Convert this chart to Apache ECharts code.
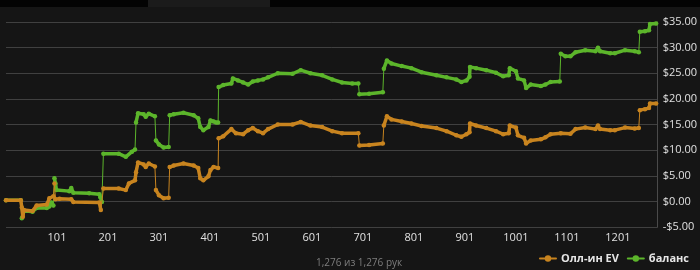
<!DOCTYPE html>
<html><head><meta charset="utf-8">
<script src="https://cdn.jsdelivr.net/npm/echarts@6/dist/echarts.min.js"></script>
<style>html,body{margin:0;padding:0;background:#151515;}#c{width:700px;height:270px;}</style>
</head><body><div id="c"></div>
<script>
const seriesNames = ['Олл-ин EV', 'баланс'];
const yTicks = [-5, 0, 5, 10, 15, 20, 25, 30, 35];
const xTickLabels = [101, 201, 301, 401, 501, 601, 701, 801, 901, 1001, 1101, 1201];
const footerText = '1,276 из 1,276 рук';

const evHands = [1,30,32,34,36,53,61,81,86,94,96,98,106,129,133,184,187,192,222,236,242,254,256,260,271,275,281,293,295,301,310,320,322,330,349,369,378,382,388,398,402,408,417,418,427,443,452,466,476,485,495,505,515,534,563,579,598,621,641,660,692,694,713,740,742,748,757,777,796,816,845,865,884,894,904,910,911,923,943,962,976,987,989,1001,1005,1017,1021,1030,1050,1059,1069,1089,1108,1118,1137,1157,1162,1166,1186,1195,1215,1234,1242,1244,1254,1262,1264,1276];
const evValues = [0.2,0.2,-1.2,-3.0,-1.7,-1.9,-0.8,-0.6,0.6,1.0,3.5,0.4,0.5,0.4,-0.1,-0.2,-1.7,2.5,2.5,2.2,3.5,4.1,5.7,7.6,7.2,6.7,7.4,6.8,2.2,1.2,0.6,0.7,6.7,7.0,7.4,7.0,6.5,4.5,4.1,4.9,6.1,6.7,6.5,12.3,12.7,14.1,13.3,13.1,13.9,14.3,13.7,13.3,14.1,15.0,15.0,15.5,14.8,14.5,13.7,13.3,13.3,10.9,11.0,11.3,14.8,16.6,16.0,15.6,15.2,14.7,14.3,13.7,12.9,12.6,13.1,13.5,15.2,14.8,14.3,13.7,13.1,13.3,14.8,14.4,12.9,12.4,11.3,11.9,12.1,12.5,13.1,13.3,13.2,14.1,14.4,14.1,14.8,14.1,13.9,13.9,14.4,14.2,14.3,17.8,18.0,18.2,19.1,19.1];

const balHands = [1,30,32,36,53,61,81,86,90,94,96,98,100,125,129,133,164,184,186,189,192,222,236,248,254,256,260,271,275,281,293,295,301,310,320,322,330,349,369,378,382,388,398,402,408,413,417,418,427,443,446,456,466,476,485,495,505,515,534,563,579,598,621,641,660,680,692,694,713,740,742,748,757,777,796,816,845,865,884,894,904,910,911,923,943,962,976,987,989,1001,1005,1017,1021,1030,1050,1059,1069,1087,1089,1098,1108,1118,1137,1157,1162,1166,1186,1195,1215,1234,1242,1244,1254,1262,1264,1276];
const balValues = [0.2,0.2,-3.3,-1.9,-2.0,-1.3,-1.3,-1.0,-0.2,-0.8,4.5,3.5,2.2,2.0,2.6,1.7,1.6,1.4,0.8,-0.1,9.3,9.3,8.7,9.7,10.1,15.4,17.2,17.0,16.5,17.1,16.6,11.9,11.1,10.5,10.6,16.8,17.0,17.3,16.8,16.2,14.5,13.9,14.5,15.8,15.6,15.4,15.4,22.3,22.7,23.0,24.0,23.6,23.2,22.8,23.4,23.6,23.8,24.2,25.0,24.9,25.6,25.0,24.6,23.8,23.2,23.0,23.0,20.9,21.0,21.3,25.9,27.5,26.9,26.4,26.0,25.2,24.6,24.2,23.8,23.3,23.6,24.3,26.2,26.0,25.6,25.1,24.4,24.6,26.0,25.4,24.0,23.6,22.1,22.8,22.5,22.8,23.3,23.4,28.8,28.3,28.3,29.1,29.5,29.3,30.0,29.3,28.9,28.9,29.5,29.3,29.1,33.1,33.2,33.4,34.6,34.7];

const colors = ['#c8841f', '#5cb52b'];

function pairs(h, v) { return h.map((x, i) => [x, v[i]]); }
function thick(h, v) {
  const out = [];
  for (let i = 0; i < h.length; i++) {
    if (i > 0 && Math.abs(v[i] - v[i - 1]) > 2.0) out.push([h[i], null]);
    out.push([h[i], v[i]]);
  }
  return out;
}

const chart = echarts.init(document.getElementById('c'), null, {renderer: 'canvas'});
const mk = (name, h, v, color, z) => [
  {name: name + '_thin', type: 'line', data: pairs(h, v), showSymbol: false, symbol: 'none',
   lineStyle: {width: 1, color: color}, itemStyle: {color: color}, z: z, silent: true, animation: false},
  {name: name, type: 'line', data: thick(h, v), connectNulls: false, symbol: 'circle', symbolSize: 4.5,
   showSymbol: true, lineStyle: {width: 3.5, color: color, cap: 'round', join: 'round'},
   itemStyle: {color: color}, z: z + 1, animation: false}
];

chart.setOption({
  backgroundColor: '#151515',
  animation: false,
  grid: {left: 6, right: 37, top: 22, bottom: 43, containLabel: false},
  xAxis: {
    type: 'value', min: 1, max: 1279,
    axisLine: {show: false}, axisTick: {show: false}, splitLine: {show: false},
    axisLabel: {customValues: xTickLabels, color: '#e0e0e0', fontSize: 11, fontFamily: 'Open Sans', margin: 5,
      formatter: v => String(v)}
  },
  yAxis: {
    type: 'value', position: 'right', min: -5, max: 35, interval: 5,
    axisLine: {show: true, lineStyle: {color: '#4a4a4a'}}, axisTick: {show: false},
    splitLine: {show: true, lineStyle: {color: '#404040', width: 1}},
    axisLabel: {color: '#e0e0e0', fontSize: 11, fontFamily: 'Open Sans', margin: 5,
      formatter: v => (v < 0 ? '-$' : '$') + Math.abs(v).toFixed(2)}
  },
  legend: {
    data: seriesNames, right: 6, top: 248, itemGap: 8, itemWidth: 16, itemHeight: 8,
    textStyle: {color: '#e6e6e6', fontSize: 11, fontWeight: 'bold', fontFamily: 'Open Sans'}
  },
  graphic: [
    {type: 'rect', left: 0, top: 0, shape: {width: 700, height: 7}, style: {fill: '#030303'}, silent: true},
    {type: 'rect', left: 148, top: 0, shape: {width: 122, height: 7}, style: {fill: '#1b1b1b'}, silent: true},
    {type: 'text', left: 316, top: 258, style: {text: footerText, fill: '#7d7d7d', fontSize: 10, fontFamily: 'Open Sans'}, silent: true}
  ],
  series: [].concat(
    mk(seriesNames[1], balHands, balValues, colors[1], 2),
    mk(seriesNames[0], evHands, evValues, colors[0], 4)
  )
});
</script></body></html>
